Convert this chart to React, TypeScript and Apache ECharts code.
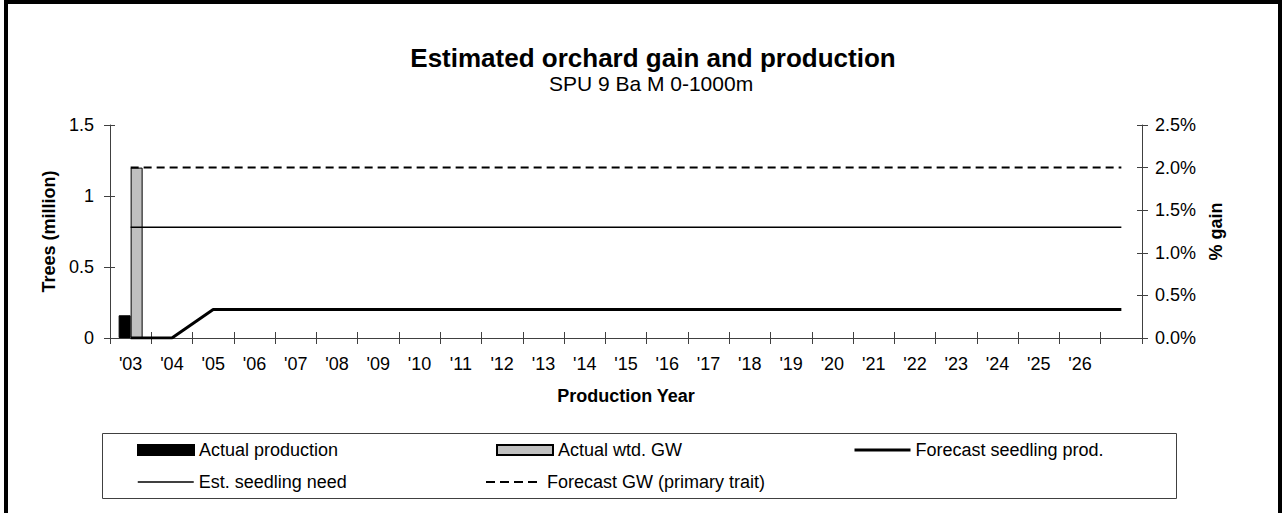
import React, { useEffect, useRef } from "react";
import * as echarts from "echarts";

const FONT = "Liberation Sans, Arial, sans-serif";

const categories = [
  "'03", "'04", "'05", "'06", "'07", "'08", "'09", "'10", "'11", "'12", "'13", "'14", "'15",
  "'16", "'17", "'18", "'19", "'20", "'21", "'22", "'23", "'24", "'25", "'26", "",
];

const actualProduction = [
  0.16, null, null, null, null, null, null, null, null, null, null, null, null,
  null, null, null, null, null, null, null, null, null, null, null, null,
];

const actualWtdGW = [
  2.0, null, null, null, null, null, null, null, null, null, null, null, null,
  null, null, null, null, null, null, null, null, null, null, null, null,
];

const forecastSeedlingProd = [
  0, 0, 0.2, 0.2, 0.2, 0.2, 0.2, 0.2, 0.2, 0.2, 0.2, 0.2, 0.2,
  0.2, 0.2, 0.2, 0.2, 0.2, 0.2, 0.2, 0.2, 0.2, 0.2, 0.2, 0.2,
];

const estSeedlingNeed = [
  0.78, 0.78, 0.78, 0.78, 0.78, 0.78, 0.78, 0.78, 0.78, 0.78, 0.78, 0.78, 0.78,
  0.78, 0.78, 0.78, 0.78, 0.78, 0.78, 0.78, 0.78, 0.78, 0.78, 0.78, 0.78,
];

const forecastGW = [
  2.0, 2.0, 2.0, 2.0, 2.0, 2.0, 2.0, 2.0, 2.0, 2.0, 2.0, 2.0, 2.0,
  2.0, 2.0, 2.0, 2.0, 2.0, 2.0, 2.0, 2.0, 2.0, 2.0, 2.0, 2.0,
];

const leftAxis = { min: 0, max: 1.5, interval: 0.5 };
const rightAxis = { min: 0, max: 2.5, interval: 0.5 };

const AXIS_COLOR = "#404040";

export default function App() {
  const ref = useRef<HTMLDivElement>(null);

  useEffect(() => {
    if (!ref.current) return;
    const chart = echarts.init(ref.current, undefined, { renderer: "svg" });

    const legendBase = {
      orient: "horizontal",
      padding: 0,
      itemWidth: 56,
      itemHeight: 10,
      selectedMode: false,
      textStyle: { fontSize: 18, color: "#000", fontFamily: FONT },
    };
    const lineLegend = {
      ...legendBase,
      itemHeight: 14,
      itemStyle: { color: "rgba(0,0,0,0)", borderWidth: 0, opacity: 0 },
    };

    const axisLabelStyle = { fontSize: 18, color: "#000", fontFamily: FONT };
    const nameStyle = { fontSize: 18, fontWeight: "bold", color: "#000", fontFamily: FONT };

    const option: any = {
      animation: false,
      backgroundColor: "#fff",
      textStyle: { fontFamily: FONT },
      title: [
        {
          text: "Estimated orchard gain and production",
          left: 653,
          top: 45,
          textAlign: "center",
          padding: 0,
          textStyle: { fontSize: 26, fontWeight: "bold", color: "#000", fontFamily: FONT },
        },
        {
          text: "SPU 9 Ba M 0-1000m",
          left: 651,
          top: 73,
          textAlign: "center",
          padding: 0,
          textStyle: { fontSize: 21, fontWeight: "normal", color: "#000", fontFamily: FONT },
        },
      ],
      grid: { left: 110, top: 125, width: 1032, height: 213, containLabel: false },
      legend: [
        { ...legendBase, data: [{ name: "Actual production", icon: "rect" }], left: 137, top: 441 },
        { ...legendBase, data: [{ name: "Actual wtd. GW", icon: "rect" }], left: 496, top: 441 },
        {
          ...lineLegend,
          lineStyle: { color: "#000", width: 3 },
          data: ["Forecast seedling prod."],
          left: 853,
          top: 441,
        },
        {
          ...lineLegend,
          lineStyle: { color: "#000", width: 1.5 },
          data: ["Est. seedling need"],
          left: 137,
          top: 473,
        },
        {
          ...lineLegend,
          lineStyle: { color: "#000", width: 2, type: [9, 5] },
          data: ["Forecast GW (primary trait)"],
          left: 485,
          top: 473,
        },
      ],
      xAxis: [
        {
          type: "category",
          data: categories,
          position: "bottom",
          axisLine: { show: true, lineStyle: { color: AXIS_COLOR, width: 1 } },
          axisTick: { show: true, length: 6, lineStyle: { color: AXIS_COLOR } },
          axisLabel: { interval: 0, margin: 17, ...axisLabelStyle },
          splitLine: { show: false },
          name: "Production Year",
          nameLocation: "middle",
          nameGap: 49,
          nameTextStyle: nameStyle,
        },
        {
          type: "category",
          data: categories,
          position: "bottom",
          axisLine: { show: false },
          axisTick: { show: true, inside: true, length: 6, lineStyle: { color: AXIS_COLOR } },
          axisLabel: { show: false },
          splitLine: { show: false },
        },
      ],
      yAxis: [
        {
          type: "value",
          position: "left",
          ...leftAxis,
          axisLine: { show: true, lineStyle: { color: AXIS_COLOR, width: 1 } },
          axisTick: { show: true, length: 6, lineStyle: { color: AXIS_COLOR } },
          axisLabel: { margin: 16, ...axisLabelStyle },
          splitLine: { show: false },
          name: "Trees (million)",
          nameLocation: "middle",
          nameGap: 52,
          nameTextStyle: nameStyle,
        },
        {
          type: "value",
          position: "right",
          ...rightAxis,
          axisLine: { show: true, lineStyle: { color: AXIS_COLOR, width: 1 } },
          axisTick: { show: true, length: 6, lineStyle: { color: AXIS_COLOR } },
          axisLabel: {
            margin: 13,
            ...axisLabelStyle,
            formatter: (v: number) => v.toFixed(1) + "%",
          },
          splitLine: { show: false },
          name: "% gain",
          nameLocation: "middle",
          nameGap: 64,
          nameTextStyle: nameStyle,
        },
        {
          type: "value",
          position: "left",
          ...leftAxis,
          axisLine: { show: false },
          axisTick: { show: true, inside: true, length: 5, lineStyle: { color: AXIS_COLOR } },
          axisLabel: { show: false },
          splitLine: { show: false },
        },
        {
          type: "value",
          position: "right",
          ...rightAxis,
          axisLine: { show: false },
          axisTick: { show: true, inside: true, length: 5, lineStyle: { color: AXIS_COLOR } },
          axisLabel: { show: false },
          splitLine: { show: false },
        },
      ],
      graphic: [
        {
          type: "rect",
          silent: true,
          shape: { x: 6, y: 2, width: 1274, height: 560 },
          style: { fill: "none", stroke: "#000", lineWidth: 4 },
        },
        {
          type: "rect",
          silent: true,
          shape: { x: 102.5, y: 433.5, width: 1074, height: 65 },
          style: { fill: "none", stroke: "#404040", lineWidth: 1 },
        },
      ],
      series: [
        {
          name: "Actual production",
          type: "bar",
          xAxisIndex: 0,
          yAxisIndex: 0,
          data: actualProduction,
          barWidth: 12,
          barGap: "0%",
          itemStyle: { color: "#000", borderColor: "#000", borderWidth: 1 },
        },
        {
          name: "Actual wtd. GW",
          type: "bar",
          xAxisIndex: 0,
          yAxisIndex: 1,
          data: actualWtdGW,
          barWidth: 12,
          barGap: "0%",
          itemStyle: { color: "#c0c0c0", borderColor: "#000", borderWidth: 1 },
        },
        {
          name: "Forecast seedling prod.",
          type: "line",
          xAxisIndex: 0,
          yAxisIndex: 0,
          data: forecastSeedlingProd,
          symbol: "none",
          lineStyle: { color: "#000", width: 3 },
          itemStyle: { color: "#000" },
        },
        {
          name: "Est. seedling need",
          type: "line",
          xAxisIndex: 0,
          yAxisIndex: 0,
          data: estSeedlingNeed,
          symbol: "none",
          lineStyle: { color: "#000", width: 1.5 },
          itemStyle: { color: "#000" },
        },
        {
          name: "Forecast GW (primary trait)",
          type: "line",
          xAxisIndex: 0,
          yAxisIndex: 1,
          data: forecastGW,
          symbol: "none",
          lineStyle: { color: "#000", width: 2, type: [8, 5] },
          itemStyle: { color: "#000" },
        },
      ],
    };

    chart.setOption(option);
    return () => chart.dispose();
  }, []);

  return (
    <div
      ref={ref}
      style={{ position: "fixed", left: 0, top: 0, width: 1282, height: 513, background: "#fff" }}
    />
  );
}
